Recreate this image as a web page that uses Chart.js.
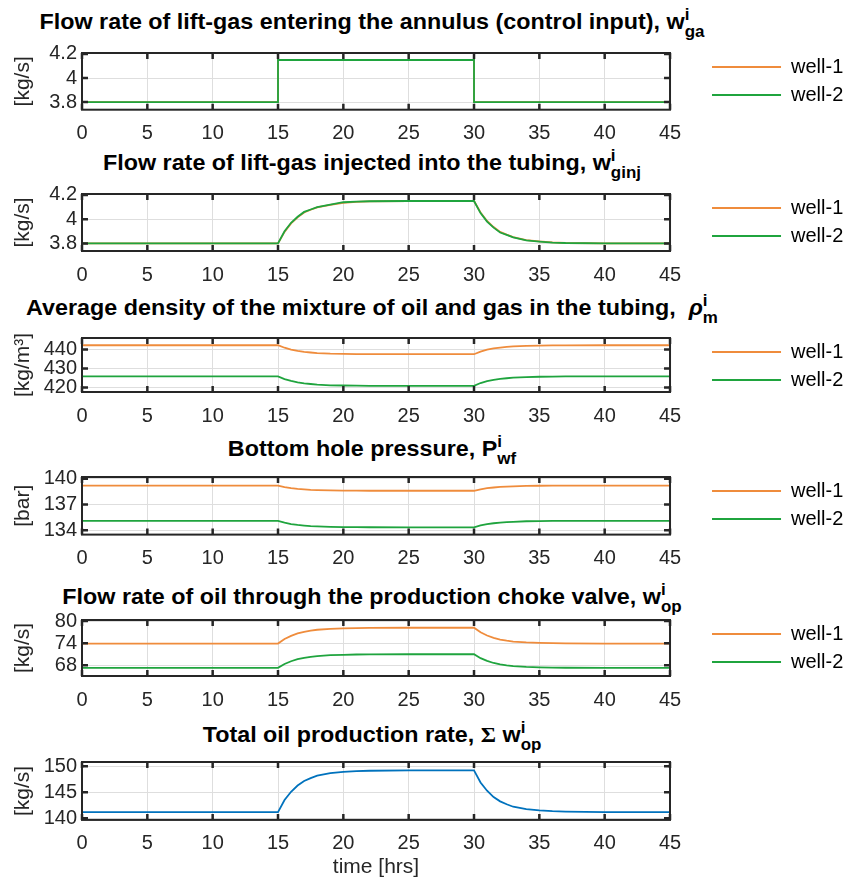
<!DOCTYPE html>
<html>
<head>
<meta charset="utf-8">
<script src="https://cdn.jsdelivr.net/npm/chart.js@4.4.0/dist/chart.umd.min.js"></script>
<style>
  body { margin: 0; background: #fff; }
  #page { position: relative; width: 854px; height: 882px; overflow: hidden; background: #fff;
          font-family: "Liberation Sans", Arial, sans-serif; }
  #page canvas { position: absolute; left: 0; }
  .ttl { position: absolute; left: 0; width: 744px; text-align: center; font-weight: bold;
         font-size: 22px; line-height: 24px; color: #000; white-space: nowrap;
         transform: scaleX(1.06); transform-origin: 372px 0; }
  .sp { display: inline-block; width: 0; position: relative; top: -9px; font-size: 16px; }
  .sb { position: relative; top: 8px; font-size: 16px; }
  .sig { font-family: "Liberation Serif", serif; }
</style>
</head>
<body>
<div id="page">
  <div class="ttl" style="top:10px">Flow rate of lift-gas entering the annulus (control input), w<span class="sp">i</span><span class="sb">ga</span></div>
  <div class="ttl" style="top:151px">Flow rate of lift-gas injected into the tubing, w<span class="sp">i</span><span class="sb">ginj</span></div>
  <div class="ttl" style="top:296px">Average density of the mixture of oil and gas in the tubing, &nbsp;<i>ρ</i><span class="sp">i</span><span class="sb">m</span></div>
  <div class="ttl" style="top:437px">Bottom hole pressure, P<span class="sp">i</span><span class="sb">wf</span></div>
  <div class="ttl" style="top:585px">Flow rate of oil through the production choke valve, w<span class="sp">i</span><span class="sb">op</span></div>
  <div class="ttl" style="top:723px">Total oil production rate, <span class="sig">Σ</span> w<span class="sp">i</span><span class="sb">op</span></div>
</div>
<script>
// --- Données ---
const hrsStep = [0, 15, 15, 30, 30, 45];
const wgaWell1 = [3.8, 3.8, 4.15, 4.15, 3.8, 3.8];
const wgaWell2 = [3.8, 3.8, 4.15, 4.15, 3.8, 3.8];

const hrs = [0, 15, 15.5, 16, 16.5, 17, 17.5, 18, 19, 20, 21, 22, 25,
             30, 30.5, 31, 31.5, 32, 32.5, 33, 34, 35, 36, 37, 40, 45];

const wginjWell1 = [3.80, 3.80, 3.895, 3.965, 4.015, 4.055, 4.078, 4.098, 4.118, 4.135, 4.143, 4.147, 4.15,
                    4.15, 4.055, 3.985, 3.935, 3.895, 3.872, 3.852, 3.827, 3.816, 3.808, 3.803, 3.80, 3.80];
const wginjWell2 = [3.80, 3.80, 3.90, 3.97, 4.02, 4.06, 4.08, 4.10, 4.12, 4.14, 4.145, 4.148, 4.15,
                    4.15, 4.05, 3.98, 3.93, 3.89, 3.87, 3.85, 3.825, 3.815, 3.807, 3.803, 3.80, 3.80];

const rhoWell1 = [442.2, 442.2, 440.9, 439.9, 439.2, 438.7, 438.4, 438.1, 437.8, 437.7, 437.6, 437.55, 437.5,
                  437.5, 438.9, 439.9, 440.6, 441.0, 441.3, 441.6, 441.9, 442.0, 442.1, 442.15, 442.2, 442.2];
const rhoWell2 = [425.9, 425.9, 424.5, 423.5, 422.7, 422.2, 421.9, 421.6, 421.2, 421.1, 421.0, 420.95, 420.9,
                  420.9, 422.4, 423.4, 424.1, 424.6, 424.9, 425.2, 425.5, 425.7, 425.8, 425.85, 425.9, 425.9];

const pwfWell1 = [139.2, 139.2, 139.03, 138.91, 138.82, 138.76, 138.71, 138.68, 138.64, 138.62, 138.61, 138.6, 138.6,
                  138.6, 138.77, 138.9, 138.98, 139.04, 139.09, 139.12, 139.16, 139.18, 139.19, 139.2, 139.2, 139.2];
const pwfWell2 = [135.1, 135.1, 134.88, 134.73, 134.62, 134.55, 134.49, 134.45, 134.4, 134.38, 134.36, 134.355, 134.35,
                  134.35, 134.56, 134.73, 134.82, 134.9, 134.95, 134.99, 135.05, 135.07, 135.085, 135.09, 135.1, 135.1];

const wopWell1 = [73.9, 73.9, 75.15, 76.0, 76.65, 77.1, 77.4, 77.65, 77.9, 78.05, 78.12, 78.16, 78.2,
                  78.2, 76.95, 76.1, 75.45, 75.0, 74.7, 74.45, 74.2, 74.07, 74.0, 73.95, 73.9, 73.9];
const wopWell2 = [67.3, 67.3, 68.37, 69.1, 69.65, 70.05, 70.3, 70.52, 70.75, 70.85, 70.93, 70.96, 71.0,
                  71.0, 69.93, 69.2, 68.63, 68.26, 68.0, 67.78, 67.56, 67.45, 67.37, 67.34, 67.3, 67.3];

const wopTotal = [141.2, 141.2, 143.52, 145.1, 146.3, 147.15, 147.7, 148.17, 148.65, 148.9, 149.05, 149.12, 149.2,
                  149.2, 146.88, 145.3, 144.08, 143.26, 142.7, 142.23, 141.76, 141.52, 141.37, 141.29, 141.2, 141.2];

const xTicks   = [0, 5, 10, 15, 20, 25, 30, 35, 40, 45];
const wgaTicks = [3.8, 4, 4.2];
const rhoTicks = [420, 430, 440];
const pwfTicks = [134, 137, 140];
const wopTicks = [68, 74, 80];
const totTicks = [140, 145, 150];

// --- Styles ---
const FONT = '"Liberation Sans", Arial, sans-serif';
const TXT = '#262626';
const GRID = '#dedede';
const ORANGE = '#ef8c3c';
const GREEN = '#1fa43e';
const BLUE = '#0072bd';
const BOX_L = 82, BOX_R = 670, PAD_T = 16;

// cadre + graduations vers l'intérieur (style MATLAB)
const boxPlugin = {
  id: 'box',
  afterDraw(chart) {
    const { ctx, chartArea: a, scales: { x, y } } = chart;
    ctx.save();
    ctx.strokeStyle = TXT;
    ctx.lineWidth = 2.5;
    ctx.beginPath();
    x.ticks.forEach(t => {
      const px = x.getPixelForValue(t.value);
      ctx.moveTo(px, a.bottom); ctx.lineTo(px, a.bottom - 6);
      ctx.moveTo(px, a.top);    ctx.lineTo(px, a.top + 6);
    });
    y.ticks.forEach(t => {
      const py = y.getPixelForValue(t.value);
      ctx.moveTo(a.left, py);  ctx.lineTo(a.left + 6, py);
      ctx.moveTo(a.right, py); ctx.lineTo(a.right - 6, py);
    });
    ctx.stroke();
    ctx.lineWidth = 2;
    ctx.strokeRect(a.left, a.top, a.right - a.left, a.bottom - a.top);
    ctx.restore();
  }
};

function makePlot(cfg) {
  const h = cfg.bottom - cfg.top;
  const below = cfg.xTitle ? 110 : 44;
  const cv = document.createElement('canvas');
  cv.width = 854;
  cv.height = PAD_T + h + below;
  cv.style.top = (cfg.top - PAD_T) + 'px';
  document.getElementById('page').appendChild(cv);

  const datasets = cfg.series.map((s, i) => ({
    label: s.label,
    data: s.x.map((v, k) => ({ x: v, y: s.y[k] })),
    borderColor: s.color,
    backgroundColor: s.color,
    borderWidth: 1.8,
    pointRadius: 0,
    tension: 0,
    order: cfg.series.length - i   // well-2 dessiné par-dessus well-1
  }));

  const chart = new Chart(cv, {
    type: 'line',
    data: { datasets },
    plugins: [boxPlugin],
    options: {
      responsive: false,
      animation: false,
      devicePixelRatio: 1,
      events: [],
      layout: { padding: { top: PAD_T, left: 0, right: 4, bottom: 0 } },
      plugins: {
        tooltip: { enabled: false },
        legend: {
          display: !!cfg.legend,
          position: 'right',
          align: 'start',
          labels: {
            usePointStyle: true,
            pointStyle: 'line',
            pointStyleWidth: 69,
            padding: 8,
            color: '#000',
            font: { family: FONT, size: 20 },
            sort: (a, b) => a.datasetIndex - b.datasetIndex
          }
        }
      },
      scales: {
        x: {
          type: 'linear', min: 0, max: 45,
          afterBuildTicks: sc => { sc.ticks = xTicks.map(v => ({ value: v })); },
          grid: { color: GRID, drawTicks: false },
          border: { display: false },
          ticks: { color: TXT, font: { family: FONT, size: 20 }, padding: 12, maxRotation: 0,
                   callback: v => String(v) },
          title: {
            display: !!cfg.xTitle, text: cfg.xTitle || '', color: TXT,
            font: { family: FONT, size: 21 }, padding: { top: 0, bottom: 2 }
          }
        },
        y: {
          min: cfg.yMin, max: cfg.yMax,
          afterBuildTicks: sc => { sc.ticks = cfg.yTicks.map(v => ({ value: v })); },
          afterFit: sc => { sc.width = BOX_L; },
          grid: { color: GRID, drawTicks: false },
          border: { display: false },
          ticks: { color: TXT, font: { family: FONT, size: 20 }, padding: 5, callback: v => String(v) },
          title: {
            display: true, text: cfg.yTitle, color: TXT,
            font: { family: FONT, size: 21 }, padding: { top: 11, bottom: 0 }
          }
        },
        sp: {
          type: 'linear', position: 'right',
          ticks: { display: false }, grid: { display: false }, border: { display: false },
          afterFit: sc => { sc.width = 34; }
        }
      }
    }
  });

  // recale la zone de tracé sur celle de la figure
  for (let k = 0; k < 3; k++) {
    const a = chart.chartArea;
    const p = chart.options.layout.padding;
    p.top += PAD_T - a.top;
    p.bottom += a.bottom - (PAD_T + h);
    p.right += a.right - BOX_R;
    p.left += BOX_L - a.left;
    chart.update('none');
  }
  return chart;
}

makePlot({
  top: 52.3, bottom: 110, yMin: 3.737, yMax: 4.208, yTicks: wgaTicks, yTitle: '[kg/s]', legend: true,
  series: [
    { label: 'well-1', x: hrsStep, y: wgaWell1, color: ORANGE },
    { label: 'well-2', x: hrsStep, y: wgaWell2, color: GREEN }
  ]
});
makePlot({
  top: 192.5, bottom: 250.5, yMin: 3.737, yMax: 4.208, yTicks: wgaTicks, yTitle: '[kg/s]', legend: true,
  series: [
    { label: 'well-1', x: hrs, y: wginjWell1, color: ORANGE },
    { label: 'well-2', x: hrs, y: wginjWell2, color: GREEN }
  ]
});
makePlot({
  top: 336.7, bottom: 391.7, yMin: 417.7, yMax: 446, yTicks: rhoTicks, yTitle: '[kg/m³]', legend: true,
  series: [
    { label: 'well-1', x: hrs, y: rhoWell1, color: ORANGE },
    { label: 'well-2', x: hrs, y: rhoWell2, color: GREEN }
  ]
});
makePlot({
  top: 475.7, bottom: 534.3, yMin: 133.5, yMax: 140.2, yTicks: pwfTicks, yTitle: '[bar]', legend: true,
  series: [
    { label: 'well-1', x: hrs, y: pwfWell1, color: ORANGE },
    { label: 'well-2', x: hrs, y: pwfWell2, color: GREEN }
  ]
});
makePlot({
  top: 619, bottom: 676, yMin: 65.1, yMax: 80.3, yTicks: wopTicks, yTitle: '[kg/s]', legend: true,
  series: [
    { label: 'well-1', x: hrs, y: wopWell1, color: ORANGE },
    { label: 'well-2', x: hrs, y: wopWell2, color: GREEN }
  ]
});
makePlot({
  top: 760.7, bottom: 818.3, yMin: 139.7, yMax: 150.8, yTicks: totTicks, yTitle: '[kg/s]', legend: false,
  xTitle: 'time [hrs]',
  series: [
    { label: 'total', x: hrs, y: wopTotal, color: BLUE }
  ]
});
</script>
</body>
</html>
